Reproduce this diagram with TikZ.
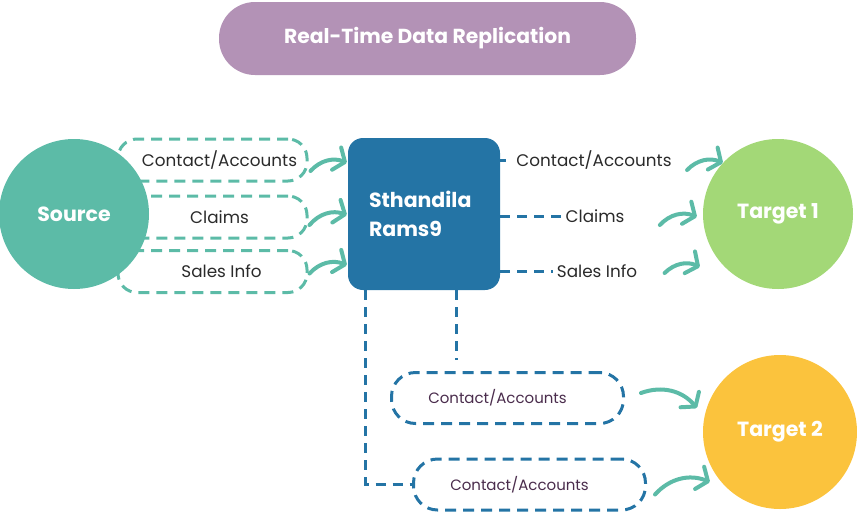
\documentclass[tikz,border=0pt]{standalone}
\usepackage{fontspec}
\setmainfont{Poppins}
\usetikzlibrary{arrows.meta,calc}
\definecolor{titlepurple}{HTML}{B392B6}
\definecolor{srcteal}{HTML}{5CBBA7}
\definecolor{hubblue}{HTML}{2474A5}
\definecolor{tgtgreen}{HTML}{A3D877}
\definecolor{tgtyellow}{HTML}{FBC33D}
\definecolor{lbldark}{HTML}{2A2A2A}
\definecolor{lblplum}{HTML}{4A2C4C}

\begin{document}
\begin{tikzpicture}[x=1pt, y=-1pt,
    bigfont/.style={font=\fontsize{20.5}{31}\selectfont\bfseries},
    hub/.style={circle, fill=#1, text=white, minimum size=150pt, inner sep=0pt, bigfont},
    tealpill/.style={rectangle, draw=srcteal, dash pattern=on 11pt off 7pt, line width=3pt, rounded corners=19pt, minimum width=189pt, minimum height=42pt},
    bluepill/.style={rectangle, draw=hubblue, dash pattern=on 11pt off 7pt, line width=3pt, rounded corners=24pt, minimum width=232pt, minimum height=51pt},
    lbl/.style={text=lbldark, font=\fontsize{16.8}{19}\selectfont},
    smalllbl/.style={text=lblplum, font=\fontsize{15}{18}\selectfont},
    bluedash/.style={draw=hubblue, line width=3pt, dash pattern=on 10pt off 7pt},
    flow/.style={draw=srcteal, line width=4pt, line cap=round, -{Straight Barb[round, length=9pt, width=24pt]}, bend left=35}
]
    \useasboundingbox (0,0) rectangle (857,512);

    % Nodes
    \node[rectangle, rounded corners=36pt, fill=titlepurple, minimum width=417pt, minimum height=73pt, text=white, font=\fontsize{20.3}{24}\selectfont\bfseries] (title) at (427.5,38.5) {Real-Time Data Replication};

    \node[tealpill, label={[lbl, xshift=7pt]center:Contact/Accounts}] (c1) at (212.5,160) {};
    \node[tealpill, label={[lbl, xshift=7pt]center:Claims}] (c2) at (212.5,217) {};
    \node[tealpill, label={[lbl, xshift=9pt]center:Sales Info}] (c3) at (212.5,271.5) {};

    \node[hub=srcteal] (source) at (74,214) {Source};
    \node[rectangle, rounded corners=15pt, fill=hubblue, text=white, minimum width=152pt, minimum height=152pt, text width=110pt, align=left, inner sep=0pt, bigfont] (rams) at (424,214) {Sthandila\\[-2pt]Rams9};
    \node[hub=tgtgreen] (t1) at (778,214) {Target 1};
    \node[hub=tgtyellow, minimum size=154pt] (t2) at (780,432) {Target 2};

    \node[lbl] (r1) at (594,160) {Contact/Accounts};
    \node[lbl] (r2) at (595,216) {Claims};
    \node[lbl] (r3) at (597,271) {Sales Info};

    \node[bluepill, label={[smalllbl, xshift=-10pt]center:Contact/Accounts}] (p1) at (507.5,398) {};
    \node[bluepill, label={[smalllbl, xshift=-10pt]center:Contact/Accounts}] (p2) at (529.5,484.5) {};

    % Connectors
    \coordinate (drop1) at ($(rams.south west)+(109,0)$);
    \coordinate (drop2) at ($(rams.south west)+(18,0)$);
    \draw[bluedash, dash phase=4pt] (rams.east |- r1) -- (r1.west);
    \draw[bluedash] (rams.east |- r2) -- (r2.west);
    \draw[bluedash] (rams.east |- r3) -- (r3.west);
    \draw[bluedash, shorten >=11pt] (drop1) -- (drop1 |- p1.north);
    \draw[bluedash] (drop2) |- (p2.west);

    % Arrows
    \draw[flow] ($(c1.east)+(2,11)$) to ($(rams.north west)+(-1,25)$);
    \draw[flow] ($(c2.east)+(1,8)$) to ($(rams.west)+(-1,1)$);
    \draw[flow] ($(c3.east)+(1,2)$) to ($(rams.south west)+(-1,-25)$);
    \draw[flow] ($(r1.east)+(12,10)$) to ($(t1.west)+(20,-51)$);
    \draw[flow] ($(r2.east)+(32,9)$) to ($(t1.west)+(-6,3)$);
    \draw[flow] ($(r3.east)+(24,2)$) to ($(t1.west)+(-3,53)$);
    \draw[flow] ($(p1.east)+(16,-5)$) to ($(t2.west)+(-6,-24)$);
    \draw[flow] ($(p2.east)+(8,10)$) to ($(t2.west)+(7,50)$);
\end{tikzpicture}
\end{document}
